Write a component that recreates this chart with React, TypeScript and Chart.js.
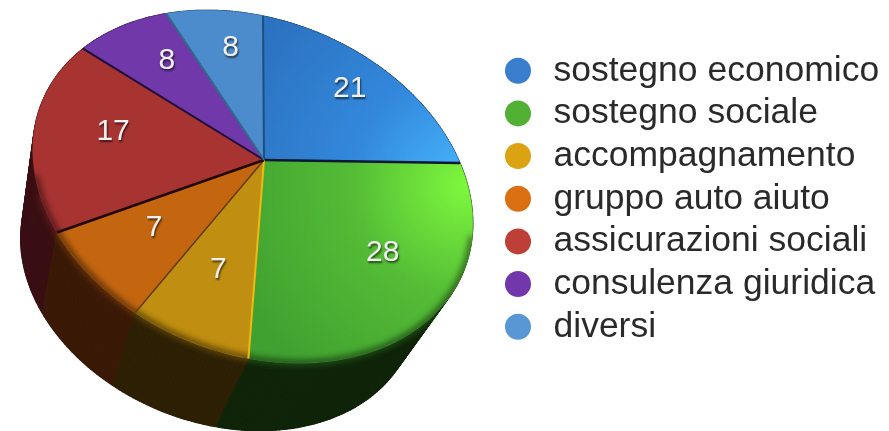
import React, { useEffect, useRef } from "react";
import { Chart, registerables } from "chart.js";

Chart.register(...registerables);

const categories = [
  "sostegno economico",
  "sostegno sociale",
  "accompagnamento",
  "gruppo auto aiuto",
  "assicurazioni sociali",
  "consulenza giuridica",
  "diversi",
];
const values = [21, 28, 7, 7, 17, 8, 8];

const legendColors = ["#3a7fce", "#52b034", "#dba212", "#db7012", "#bd3f38", "#7238ab", "#5896d4"];
const topStops = [
  ["#48b8ff", "#3388dc", "#2c72c0"],
  ["#7ef83e", "#54bc36", "#40a030"],
  ["#c8940f", "#c08e10", "#c08e10"],
  ["#c86a10", "#c46610", "#c46610"],
  ["#aa3533", "#a83432", "#a83432"],
  ["#7038a8", "#7038a8", "#7038a8"],
  ["#4d8ccc", "#4d8ccc", "#4d8ccc"],
];
const wallColors = ["#0c2340", "#0f2409", "#2d2005", "#3a1a07", "#3a0f13", "#200c36", "#14304f"];
const edgeColors = ["#1d4e80", "#081830", "#f0b912", "#5e3c08", "#200808", "#1e0c3a", "#2f6a8c"];
const edgeWidths = [2, 2.5, 2, 1.5, 2.5, 2, 2];

const FONT = "'Liberation Sans'";

// projection of the unit pie disc into the tilted view
const project = (a: number, r: number) => {
  const u = r * Math.cos(a);
  const v = r * Math.sin(a);
  const w = 1 + 0.051 * u - 0.165 * v;
  return { x: 264 + (216.4 * u + 1.165 * v) / w, y: 160 + (36.6 * u + 167.8 * v) / w };
};
const lower = (p: { x: number; y: number }) => ({
  x: p.x + (-89 - p.x) * 0.1,
  y: p.y + (1040 - p.y) * 0.1,
});

const tilted = {
  id: "tilted",
  afterLayout(chart: any) {
    const lg = chart.legend;
    const pad = lg.options.labels.padding;
    lg.left = 500.25 - pad;
    lg.right = 889;
    lg.top = 45.8;
    lg.bottom = 431;
  },
  beforeDatasetDraw(chart: any) {
    const ctx: CanvasRenderingContext2D = chart.ctx;
    const arcs = chart.getDatasetMeta(0).data as any[];
    const arcPts = (s: number, e: number) => {
      const n = Math.max(8, Math.ceil((e - s) * 60));
      const out = [];
      for (let i = 0; i <= n; i++) out.push(project(s + ((e - s) * i) / n, 1));
      return out;
    };

    // side walls, back to front, swept one rim segment at a time
    const order = arcs
      .map((arc, i) => ({ i, y: project((arc.startAngle + arc.endAngle) / 2, 1).y }))
      .sort((p, q) => p.y - q.y);
    for (const { i } of order) {
      const pts = arcPts(arcs[i].startAngle, arcs[i].endAngle);
      ctx.fillStyle = wallColors[i];
      ctx.strokeStyle = wallColors[i];
      ctx.lineWidth = 1.2;
      ctx.lineJoin = "round";
      ctx.beginPath();
      pts.forEach((p, k) => (k ? ctx.lineTo(p.x, p.y) : ctx.moveTo(p.x, p.y)));
      [...pts].reverse().forEach((p) => {
        const b = lower(p);
        ctx.lineTo(b.x, b.y);
      });
      ctx.closePath();
      ctx.fill();
      for (let k = 0; k + 1 < pts.length; k++) {
        const a = pts[k];
        const b = pts[k + 1];
        const c = lower(b);
        const d = lower(a);
        ctx.beginPath();
        ctx.moveTo(a.x, a.y);
        ctx.lineTo(b.x, b.y);
        ctx.lineTo(c.x, c.y);
        ctx.lineTo(d.x, d.y);
        ctx.closePath();
        ctx.fill();
        ctx.stroke();
      }
    }

    // glow of the top colour on the wall, just under the rim
    ctx.save();
    ctx.filter = "blur(3px)";
    ctx.lineWidth = 4;
    ctx.globalAlpha = 0.5;
    arcs.forEach((arc, i) => {
      const s = Math.max(arc.startAngle, 0.75);
      const e = Math.min(arc.endAngle, 2.75);
      if (e <= s) return;
      ctx.beginPath();
      arcPts(s, e).forEach((p, k) => (k ? ctx.lineTo(p.x, p.y) : ctx.moveTo(p.x, p.y)));
      ctx.strokeStyle = topStops[i][2];
      ctx.stroke();
    });
    ctx.restore();

    // top surface
    arcs.forEach((arc, i) => {
      const g = ctx.createRadialGradient(465, 185, 0, 465, 185, 250);
      g.addColorStop(0, topStops[i][0]);
      g.addColorStop(0.45, topStops[i][1]);
      g.addColorStop(1, topStops[i][2]);
      const pts = arcPts(arc.startAngle, arc.endAngle);
      ctx.beginPath();
      ctx.moveTo(264, 160);
      pts.forEach((p) => ctx.lineTo(p.x, p.y));
      ctx.closePath();
      ctx.fillStyle = g;
      ctx.strokeStyle = g;
      ctx.lineWidth = 0.6;
      ctx.fill();
      ctx.stroke();
    });

    // soft darkening along the front rim
    const all = arcPts(-Math.PI / 2, 1.5 * Math.PI);
    ctx.save();
    ctx.beginPath();
    all.forEach((p, k) => (k ? ctx.lineTo(p.x, p.y) : ctx.moveTo(p.x, p.y)));
    ctx.closePath();
    ctx.clip();
    ctx.filter = "blur(3px)";
    ctx.strokeStyle = "rgba(0,0,0,0.55)";
    ctx.lineWidth = 6;
    ctx.beginPath();
    arcPts(0.25, 2.85).forEach((p, k) => (k ? ctx.lineTo(p.x, p.y) : ctx.moveTo(p.x, p.y)));
    ctx.stroke();
    ctx.restore();

    // slice boundaries
    arcs.forEach((arc, i) => {
      const p = project(arc.startAngle, 1);
      ctx.beginPath();
      ctx.moveTo(264, 160);
      ctx.lineTo(p.x, p.y);
      ctx.strokeStyle = edgeColors[i];
      ctx.lineWidth = edgeWidths[i];
      ctx.stroke();
    });

    // value labels
    ctx.save();
    ctx.font = `30px ${FONT}`;
    ctx.textAlign = "center";
    ctx.textBaseline = "middle";
    ctx.fillStyle = "#f0f0f0";
    ctx.shadowColor = "rgba(0,0,0,0.6)";
    ctx.shadowBlur = 2;
    ctx.shadowOffsetX = 1;
    ctx.shadowOffsetY = 2;
    arcs.forEach((arc, i) => {
      const p = project((arc.startAngle + arc.endAngle) / 2, 0.68);
      ctx.fillText(String(values[i]), p.x + 2, p.y - 6);
    });
    ctx.restore();
    return false;
  },
};

export default function App() {
  const ref = useRef<HTMLCanvasElement>(null);
  useEffect(() => {
    const chart = new Chart(ref.current!, {
      type: "pie",
      data: {
        labels: categories,
        datasets: [{ data: values, backgroundColor: legendColors, borderWidth: 0 }],
      },
      options: {
        animation: false,
        responsive: false,
        devicePixelRatio: 1,
        plugins: {
          tooltip: { enabled: false },
          legend: {
            position: "right",
            align: "start",
            labels: {
              usePointStyle: true,
              pointStyle: "circle",
              boxHeight: 18.4,
              color: "#2a2a2a",
              padding: 7.17,
              font: { family: FONT, size: 35.5 },
            },
          },
        },
      },
      plugins: [tilted],
    });
    return () => chart.destroy();
  }, []);
  return (
    <canvas
      ref={ref}
      width={889}
      height={431}
      style={{ position: "absolute", left: 0, top: 0, display: "block" }}
    />
  );
}
